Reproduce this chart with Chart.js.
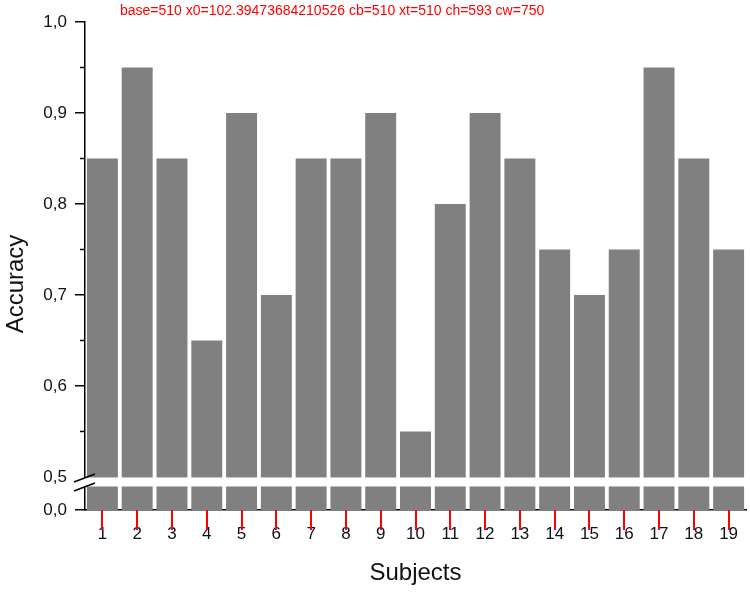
<!DOCTYPE html>
<html>
<head>
<meta charset="utf-8">
<title>Accuracy per subject</title>
<script src="https://cdn.jsdelivr.net/npm/chart.js@4/dist/chart.umd.min.js"></script>
<style>
    html, body { margin: 0; padding: 0; background: #fff; }
    #wrap { position: relative; width: 750px; height: 593px; }
</style>
</head>
<body>
<div id="wrap"><canvas id="bar"></canvas></div>
<script>
// data
var subjects = ['1','2','3','4','5','6','7','8','9','10','11','12','13','14','15','16','17','18','19'];
var accuracy = [0.85, 0.95, 0.85, 0.65, 0.90, 0.70, 0.85, 0.85, 0.90, 0.55, 0.80, 0.90, 0.85, 0.75, 0.70, 0.75, 0.95, 0.85, 0.75];

// broken axis: 0,0 .. 0,5 is squeezed into the strip under the break
var axisMin = 0.4637;
var breakTop = 0.5;
var breakBottom = 0.4901;
var yTickValues = [axisMin, 0.5, 0.6, 0.7, 0.8, 0.9, 1.0];
var yTickLabels = ['0,0', '0,5', '0,6', '0,7', '0,8', '0,9', '1,0'];
var yMinorTicks = [0.55, 0.65, 0.75, 0.85, 0.95];

!function() {
    "use strict";

    var font = "'Liberation Sans', Arial, sans-serif";

    var brokenAxis = {
        id: 'brokenAxis',
        afterDatasetsDraw: function(chart) {
            var ctx = chart.ctx;
            var y = chart.scales.y;
            var area = chart.chartArea;
            var y0 = y.getPixelForValue(breakTop);
            var y1 = y.getPixelForValue(breakBottom);
            ctx.save();
            ctx.fillStyle = '#fff';
            ctx.fillRect(area.left - 2, y0 + 0.5, area.right - area.left + 4, y1 - y0);
            ctx.restore();
        },
        afterDraw: function(chart) {
            var ctx = chart.ctx;
            var xs = chart.scales.x;
            var y = chart.scales.y;
            var left = chart.chartArea.left;
            var base = Math.round(y.getPixelForValue(axisMin));
            var y0 = y.getPixelForValue(breakTop);
            var y1 = y.getPixelForValue(breakBottom);
            var i;
            ctx.save();
            // debug readout
            ctx.fillStyle = 'red';
            ctx.font = '14px sans-serif';
            ctx.fillText('base=' + base + ' x0=' + xs.getPixelForValue(0) + ' cb=' + chart.chartArea.bottom + ' xt=' + xs.top + ' ch=' + chart.height + ' cw=' + chart.width, 120, 15);
            for (i = 0; i < subjects.length; i++) {
                ctx.fillRect(Math.round(xs.getPixelForValue(i)) - 1, base, 2, 20);
            }
            ctx.strokeStyle = '#000';
            ctx.lineWidth = 1.5;
            yMinorTicks.forEach(function(v) {
                var p = y.getPixelForValue(v);
                ctx.beginPath();
                ctx.moveTo(left - 5, p);
                ctx.lineTo(left, p);
                ctx.stroke();
            });
            [y0, y1].forEach(function(p) {
                ctx.beginPath();
                ctx.moveTo(left - 11, p + 5);
                ctx.lineTo(left + 10, p - 3);
                ctx.stroke();
            });
            ctx.fillStyle = '#111';
            ctx.font = '24px ' + font;
            ctx.textAlign = 'center';
            ctx.textBaseline = 'alphabetic';
            ctx.translate(23, 284);
            ctx.rotate(-Math.PI / 2);
            ctx.fillText('Accuracy', 0, 0);
            ctx.restore();
        }
    };

    var barChart = {
        labels: subjects,
        datasets: [{
            label: 'Accuracy',
            data: accuracy,
            backgroundColor: '#808080',
            borderWidth: 0,
            barPercentage: 0.89,
            categoryPercentage: 1.0
        }]
    };

    var options = {
        responsive: true,
        maintainAspectRatio: false,
        animation: false,
        layout: { padding: { top: 22, right: 4, left: 0, bottom: 0 } },
        plugins: {
            legend: { display: false },
            tooltip: { enabled: false }
        },
        scales: {
            x: {
                offset: true,
                grid: {
                    display: true, drawOnChartArea: false, drawTicks: true, tickLength: 9,
                    color: 'rgba(0,0,0,0)', tickColor: 'rgba(0,0,0,0)'
                },
                border: { display: true, color: '#000', width: 1.5 },
                ticks: { color: '#111', font: { family: font, size: 17 }, padding: 5, maxRotation: 0 },
                title: { display: true, text: 'Subjects', color: '#111', font: { family: font, size: 24 }, padding: { top: 4, bottom: 5 } },
                afterFit: function(scale) { scale.height = 83; }
            },
            y: {
                min: axisMin,
                max: 1.0,
                grid: {
                    display: true, drawOnChartArea: false, drawTicks: true, tickLength: 10, lineWidth: 1.5,
                    tickColor: function(c) { return c.index === 1 ? 'rgba(0,0,0,0)' : '#000'; }
                },
                border: { display: true, color: '#000', width: 1.5 },
                ticks: {
                    color: '#111', font: { family: font, size: 17 }, padding: 8,
                    callback: function(v, i) { return yTickLabels[i]; }
                },
                afterBuildTicks: function(scale) {
                    scale.ticks = yTickValues.map(function(v) { return { value: v }; });
                },
                afterFit: function(scale) { scale.width = 85; }
            }
        }
    };

    new Chart(document.getElementById('bar').getContext('2d'), {
        type: 'bar',
        data: barChart,
        options: options,
        plugins: [brokenAxis]
    });
}();
</script>
</body>
</html>
